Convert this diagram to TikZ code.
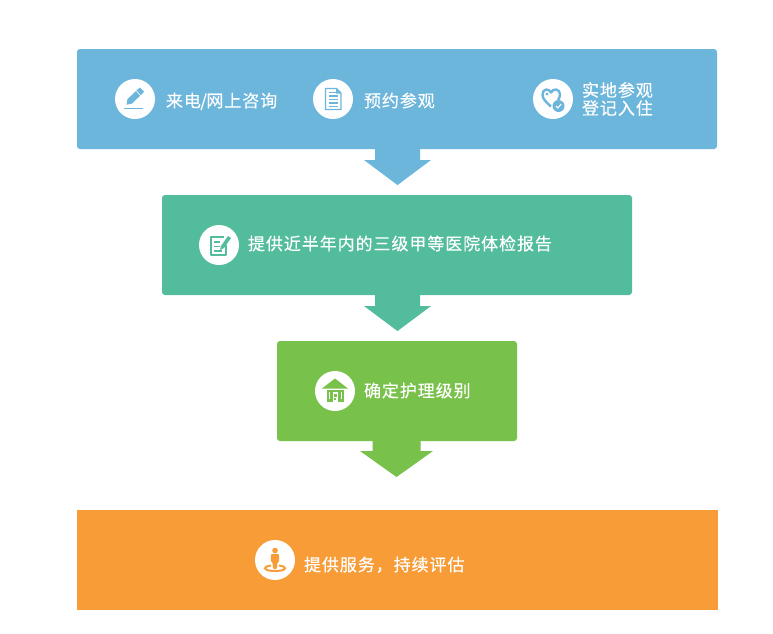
\documentclass[tikz,border=0pt]{standalone}
\usepackage{fontspec}
\newfontfamily\cjk[LetterSpace=5.5,FakeBold=0.35]{Noto Sans CJK SC}
\definecolor{cblue}{HTML}{6CB5DB}
\definecolor{cteal}{HTML}{52BC9C}
\definecolor{cgreen}{HTML}{78C14A}
\definecolor{corange}{HTML}{F79C37}
\tikzset{
  box/.style={inner sep=0pt,outer sep=0pt,rounded corners=3pt},
  iconbg/.style={circle,fill=white,minimum size=40pt,inner sep=0pt,outer sep=0pt},
  lbl/.style={anchor=base west,inner sep=0pt,outer sep=0pt,text=white,font=\cjk\fontsize{17pt}{19pt}\selectfont,align=left},
}
\newcommand{\flowarrow}[5]{% colour, start point, half-body width, wing height, wing width
  \fill[#1] ([xshift=-#3pt]#2) -- ++(0,#4) -- ++(-#5,0) -- ++({#3+#5},{36-#4}) -- ++({#3+#5},{#4-36}) -- ++(-#5,0) -- ++(0,-#4) -- cycle;}
\begin{document}
\begin{tikzpicture}[x=1pt,y=-1pt]
\useasboundingbox (0,0) rectangle (773,633);
\fill[white] (0,0) rectangle (773,633);
% boxes
\node[box,fill=cblue,minimum width=640pt,minimum height=100pt] (b1) at (397,99) {};
\node[box,fill=cteal,minimum width=470pt,minimum height=100pt] (b2) at (397,245) {};
\node[box,fill=cgreen,minimum width=240pt,minimum height=100pt] (b3) at (397,391) {};
\node[inner sep=0pt,outer sep=0pt,fill=corange,minimum width=641pt,minimum height=99.5pt] (b4) at (397.5,560.2) {};
% arrows
\coordinate (a1) at ([xshift=.5pt]b1.south);
\coordinate (a2) at ([xshift=.5pt]b2.south);
\coordinate (a3) at ([xshift=-.5pt]b3.south);
\flowarrow{cblue}{a1}{22.5}{11}{11}
\flowarrow{cteal}{a2}{22.5}{11}{11}
\flowarrow{cgreen}{a3}{24}{10}{12.5}
% icon discs
\node[iconbg] (i1) at (135,99) {};
\node[iconbg] (i2) at (333,99) {};
\node[iconbg] (i3) at (553,99) {};
\node[iconbg] (i4) at (219,245) {};
\node[iconbg] (i5) at (335,391) {};
\node[iconbg] (i6) at (275,560) {};
% pencil
\begin{scope}[shift={(i1.center)}]
  \fill[cblue] (-8.5,5.8) -- (-7.5,0) -- (3.2,-10) -- (5,-11.5) -- (9,-7.5) -- (7.5,-5.5) -- (-3,4.5) -- cycle;
  \draw[white,line width=.7pt] (1.5,-7.8) -- (5.6,-3.6);
  \fill[cblue] (-11,8.8) rectangle (8,10.3);
\end{scope}
% document
\begin{scope}[shift={(i2.center)}]
  \draw[cblue,line width=1.3pt,line join=round] (-7.5,-10.5) -- (3.5,-10.5) -- (8,-6) -- (8,10.5) -- (-7.5,10.5) -- cycle;
  \fill[cblue] (3,-10.5) -- (8,-5.5) -- (3,-5.5) -- cycle;
  \foreach \yy in {-6.5,-3,0.5,4,7.5}
    \draw[cblue,line width=1.2pt] (-4.5,\yy) -- (5,\yy);
\end{scope}
% heart with check
\begin{scope}[shift={(i3.center)}]
  \draw[cblue,line width=2.4pt,line join=round] (-2,7.5) .. controls (-7,3) and (-10.5,0) .. (-10.5,-4.5) .. controls (-10.5,-10.5) and (-4,-11) .. (-2,-6.5) .. controls (0,-11) and (7,-10.5) .. (7,-4.5) .. controls (7,-2) and (6,-0.5) .. (5,1);
  \fill[cblue] (-6,-5) circle (1.6pt);
  \fill[cblue] (5.5,7) circle (6pt);
  \draw[white,line width=1.1pt] (2.8,7) -- (4.8,9) -- (8.2,5);
\end{scope}
% note with pencil
\begin{scope}[shift={(i4.center)}]
  \draw[cteal,line width=1.5pt,line join=round] (5,-8) -- (-8,-8) -- (-8,10) -- (7,10) -- (7,0);
  \foreach \yy in {-3,1.5,6}
    \draw[cteal,line width=1.3pt] (-5,\yy) -- ({\yy<5?1:3},\yy);
  \fill[cteal] (1,5) -- (2,1) -- (9,-9) -- (12,-7) -- (5,3) -- cycle;
\end{scope}
% house
\begin{scope}[shift={(i5.center)}]
  \fill[cgreen] (0,-12.5) -- (13,-2.5) -- (-13,-2.5) -- cycle;
  \fill[cgreen] (-8.5,-1.5) rectangle (8.5,10.5);
  \foreach \xx in {-6,6}
    \draw[white,line width=.7pt] (\xx,1) -- (\xx,8);
  \fill[white] (-2.5,1) rectangle (3,10.5);
  \fill[cgreen] (-1,3) rectangle (1.5,5.5);
  \fill[cgreen] (-1,7) rectangle (0.5,8.5);
\end{scope}
% person
\begin{scope}[shift={(i6.center)}]
  \fill[corange] (0,-9.5) circle (2.8pt);
  \fill[corange,rounded corners=1pt] (-4.2,-6) -- (4.2,-6) -- (4.2,2) -- (2.6,2) -- (1.8,9) -- (-1.8,9) -- (-2.6,2) -- (-4.2,2) -- cycle;
  \draw[corange,line width=2pt] (-4,5.5) .. controls (-8.5,6.3) and (-10,7) .. (-10,8.2) .. controls (-10,10) and (-5,11) .. (0,11) .. controls (5,11) and (10,10) .. (10,8.2) .. controls (10,7) and (8.5,6.3) .. (4,5.5);
\end{scope}
% labels
\node[lbl] (t1) at (166,107) {来电\kern-.6pt/\kern-.6pt网上咨询};
\node[lbl] (t2) at (364,107) {预约参观};
\node[lbl] (t3) at (582,96.5) {实地参观};
\node[lbl] (t3b) at (582,114.5) {登记入住};
\node[lbl] (t4) at (248,250) {提供近半年内的三级甲等医院体检报告};
\node[lbl] (t5) at (364,397) {确定护理级别};
\node[lbl] (t6) at (304,571) {提供服务，持续评估};
\end{tikzpicture}
\end{document}
